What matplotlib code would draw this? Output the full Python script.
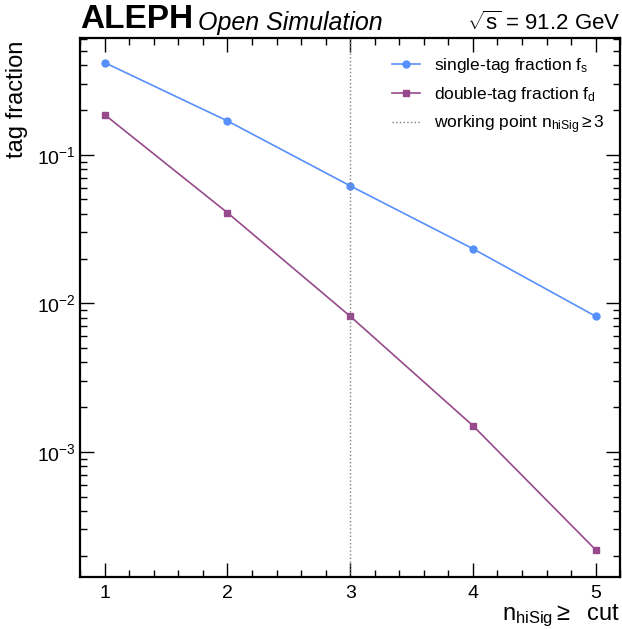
import matplotlib

matplotlib.use("Agg")
import matplotlib.pyplot as plt
from matplotlib.ticker import AutoMinorLocator, LogLocator, NullFormatter

cuts = [1, 2, 3, 4, 5]
single_tag = [0.417, 0.169, 0.0618, 0.0233, 0.00818]
double_tag = [0.186, 0.0407, 0.00818, 0.00150, 0.000219]
working_point = 3

plt.rcParams["font.family"] = ["Liberation Sans", "DejaVu Sans"]
plt.rcParams["mathtext.fontset"] = "custom"
plt.rcParams["mathtext.rm"] = "Liberation Sans"
plt.rcParams["mathtext.it"] = "Liberation Sans:italic"

fig = plt.figure(figsize=(6.22, 6.29), dpi=100)
ax = fig.add_axes([0.129, 0.083, 0.868, 0.857])

ax.plot(cuts, single_tag, color="#5790fc", marker="o", markersize=5, lw=1.2,
        label=r"single-tag fraction $\mathregular{f_s}$")
ax.plot(cuts, double_tag, color="#964a8b", marker="s", markersize=5, lw=1.2,
        label=r"double-tag fraction $\mathregular{f_d}$")
ax.axvline(working_point, color="grey", ls=":", lw=1.0,
           label=r"working point $\mathregular{n_{hiSig}\geq3}$")

ax.set_yscale("log")
ax.set_xlim(0.8, 5.2)
ax.set_ylim(1.44e-4, 0.614)
ax.set_xticks(cuts)
ax.xaxis.set_minor_locator(AutoMinorLocator(5))
ax.yaxis.set_minor_locator(LogLocator(base=10, subs=range(2, 10), numticks=20))
ax.yaxis.set_minor_formatter(NullFormatter())

ax.tick_params(which="both", direction="in", top=True, right=True, labelsize=14)
ax.tick_params(which="major", length=10, width=1)
ax.tick_params(which="minor", length=5, width=1)
ax.tick_params(axis="x", pad=6)
for s in ax.spines.values():
    s.set_linewidth(1.6)

ax.set_xlabel(r"$\mathregular{n_{hiSig}}\geq$  cut", fontsize=17, loc="right", labelpad=0)
ax.text(-0.117, 0.995, "tag fraction", transform=ax.transAxes, fontsize=17,
        rotation=90, ha="center", va="top")

ax.legend(loc="upper right", frameon=False, fontsize=12.5, handlelength=1.6,
          labelspacing=0.55, bbox_to_anchor=(1.0, 0.995))

ax.text(0.0, 1.006, "ALEPH", transform=ax.transAxes, fontsize=24, fontweight="bold",
        va="bottom", ha="left")
ax.text(0.218, 1.006, "Open Simulation", transform=ax.transAxes, fontsize=18,
        fontstyle="italic", va="bottom", ha="left")
ax.text(1.0, 1.006, r"$\sqrt{\mathregular{s}}$ = 91.2 GeV", transform=ax.transAxes,
        fontsize=16, va="bottom", ha="right")

fig.savefig("out.png", dpi=100)
